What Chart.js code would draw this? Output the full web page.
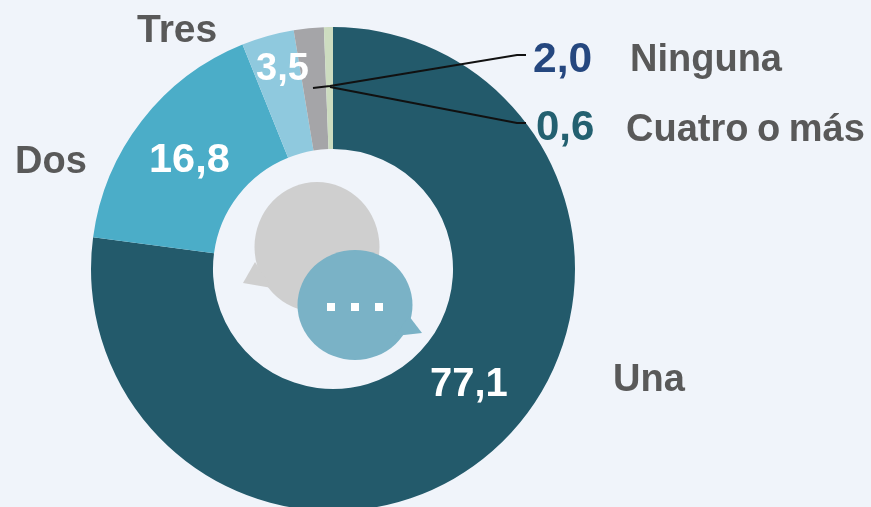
<!DOCTYPE html>
<html><head><meta charset="utf-8">
<style>html,body{margin:0;padding:0;background:#f0f4fa;overflow:hidden;width:871px;height:507px}
#w{position:absolute;left:0;top:0;width:871px;height:538px;filter:blur(0.6px)}</style>
<script src="https://cdn.jsdelivr.net/npm/chart.js@4"></script></head>
<body><div id="w"><canvas id="c"></canvas></div>
<script>
const categories=["Una","Dos","Tres","Ninguna","Cuatro o más"];
const values=[77.1,16.8,3.5,2.0,0.6];
const valueLabels=["77,1","16,8","3,5","2,0","0,6"];
const sliceColors=["#235a6b","#4badc8","#8fc9de","#a5a5a8","#cddcc0"];

const catPos=[[613,381],[15,163],[137,31],[630,61],[626,131]];
const valPos=[[430,385],[149,161],[256,70],[533,60],[536,128]];
const valColors=["#ffffff","#ffffff","#ffffff","#25477f","#236070"];
const valSizes=[40,41.5,38,42.5,42];
const catSizes=[38,38,39,38,38];

const overlay={id:"overlay",afterDatasetsDraw(ch){
  const x=ch.ctx;x.save();
  x.fillStyle="#cfcfcf";
  x.beginPath();x.ellipse(317,247,62.5,65,0,0,Math.PI*2);x.fill();
  x.beginPath();x.moveTo(255,262);x.lineTo(243,283);x.lineTo(272,288);x.closePath();x.fill();
  x.fillStyle="#7ab2c6";
  x.beginPath();x.ellipse(355,305,57.5,55,0,0,Math.PI*2);x.fill();
  x.beginPath();x.moveTo(409,316);x.lineTo(422,333);x.lineTo(395,336);x.closePath();x.fill();
  x.fillStyle="#ffffff";
  [331,355,379].forEach(p=>x.fillRect(p-4,303,8,8));
  x.strokeStyle="#111111";x.lineWidth=2;
  x.beginPath();x.moveTo(313,88);x.lineTo(330,86);x.lineTo(517,55);x.lineTo(526,55);x.stroke();
  x.beginPath();x.moveTo(330,87);x.lineTo(517,123);x.lineTo(526,123);x.stroke();
  x.textBaseline="middle";x.textAlign="left";
  categories.forEach((t,i)=>{x.fillStyle="#595959";x.font="bold "+catSizes[i]+"px 'Liberation Sans'";
    x.wordSpacing=i===4?"-2px":"0px";x.fillText(t,catPos[i][0],catPos[i][1]);});
  x.wordSpacing="0px";
  valueLabels.forEach((t,i)=>{x.fillStyle=valColors[i];x.font="bold "+valSizes[i]+"px 'Liberation Sans'";x.fillText(t,valPos[i][0],valPos[i][1]);});
  x.restore();
}};
new Chart(document.getElementById("c"),{
  type:"doughnut",
  data:{labels:categories,datasets:[{data:values,backgroundColor:sliceColors,borderWidth:0}]},
  options:{responsive:true,maintainAspectRatio:false,animation:false,cutout:"49.6%",
    layout:{padding:{top:27,bottom:27,left:91,right:296}},
    plugins:{legend:{display:false},tooltip:{enabled:false}}},
  plugins:[overlay]
});
</script></body></html>
